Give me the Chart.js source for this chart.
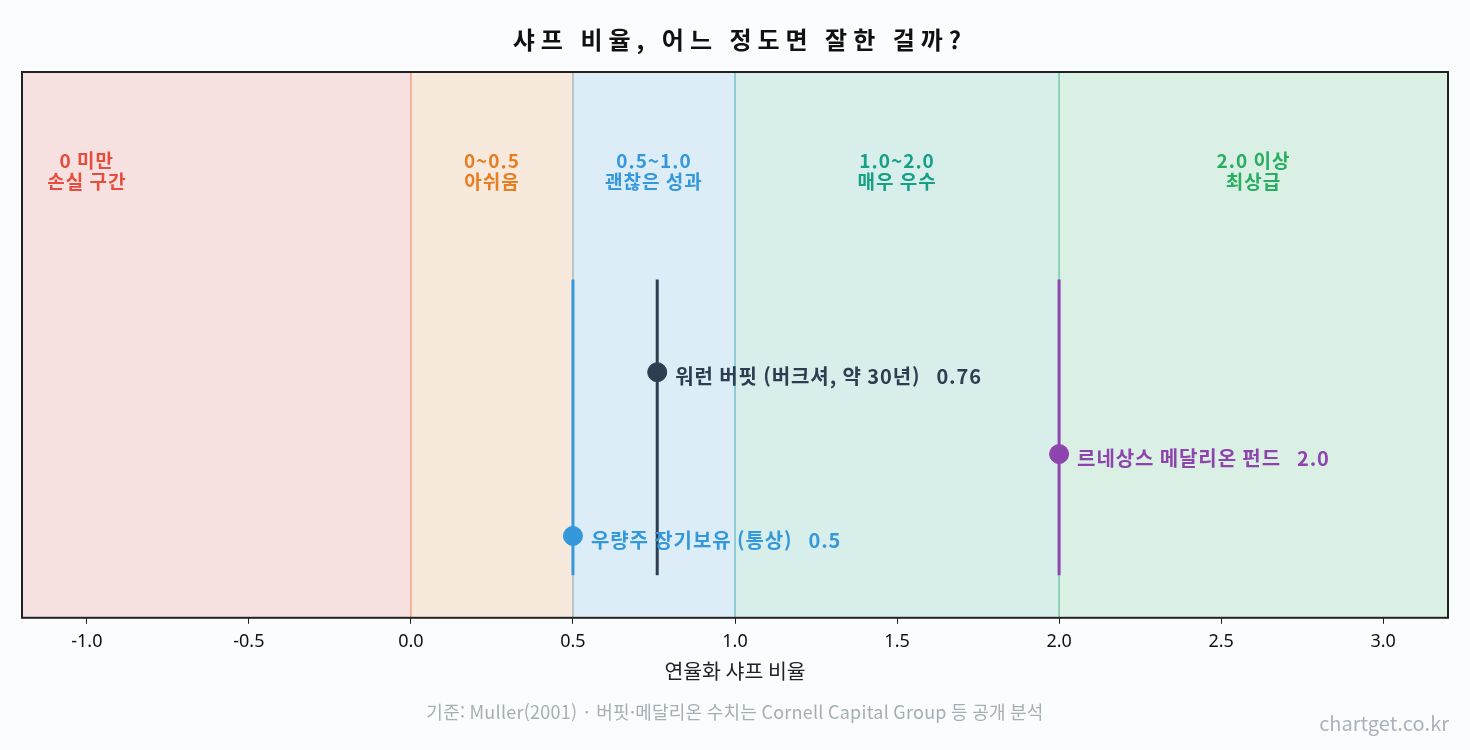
<!DOCTYPE html>
<html lang="ko">
  <head>
    <meta charset="UTF-8" />
    <title>샤프 비율, 어느 정도면 잘한 걸까?</title>
    <script src="https://cdn.jsdelivr.net/npm/chart.js"></script>
    <style>
      html, body { margin: 0; padding: 0; background: #fbfcfd; }
      .wrap { position: relative; width: 1470px; height: 750px; }
    </style>
  </head>
  <body>
    <div class="wrap">
      <canvas id="sharpeChart" width="1470" height="750"></canvas>
    </div>

    <script>
      // Sharpe ratio bands
      const bandStarts = [-2.0, 0.0, 0.5, 1.0, 2.0];
      const bandEnds = [0.0, 0.5, 1.0, 2.0, 4.0];
      const bandLabelX = [-1.0, 0.25, 0.75, 1.5, 2.6];
      const bandTitles = ["0 미만", "0~0.5", "0.5~1.0", "1.0~2.0", "2.0 이상"];
      const bandNotes = ["손실 구간", "아쉬움", "괜찮은 성과", "매우 우수", "최상급"];
      const bandColors = ["231,76,60", "230,126,34", "52,152,219", "22,160,133", "39,174,96"];

      // investors / strategies
      const names = ["우량주 장기보유 (통상)", "워런 버핏 (버크셔, 약 30년)", "르네상스 메달리온 펀드"];
      const sharpe = [0.5, 0.76, 2.0];
      const valueLabels = ["0.5", "0.76", "2.0"];
      const rowLevels = [0.15, 0.45, 0.3];
      const markColors = ["#3498db", "#2c3e50", "#8e44ad"];

      // vertical marker extent (y, 0..1)
      const lineLow = 0.078;
      const lineHigh = 0.62;
      const bandLabelLevel = 0.82;

      const FONT = "'Noto Sans CJK KR', 'Noto Sans', sans-serif";
      const TICK_FONT = "'Noto Sans', 'Noto Sans CJK KR', sans-serif";
      const TITLE = "샤프 비율, 어느 정도면 잘한 걸까?";
      const NOTE = "기준: Muller(2001) · 버핏·메달리온 수치는 Cornell Capital Group 등 공개 분석";

      const datasets = [];
      sharpe.forEach((v, i) => {
        datasets.push({
          type: "line",
          data: [{ x: v, y: lineLow }, { x: v, y: lineHigh }],
          borderColor: markColors[i],
          borderWidth: 3,
          pointRadius: 0,
          order: 2,
        });
      });
      sharpe.forEach((v, i) => {
        datasets.push({
          type: "scatter",
          data: [{ x: v, y: rowLevels[i] }],
          backgroundColor: markColors[i],
          borderColor: markColors[i],
          pointRadius: 9.5,
          order: 1,
        });
      });

      function spaced(ctx, px) {
        if ("letterSpacing" in ctx) ctx.letterSpacing = px + "px";
      }

      const bandsPlugin = {
        id: "bands",
        beforeDatasetsDraw(chart) {
          const { ctx, chartArea, scales } = chart;
          ctx.save();
          ctx.beginPath();
          ctx.rect(chartArea.left, chartArea.top, chartArea.right - chartArea.left, chartArea.bottom - chartArea.top);
          ctx.clip();
          bandStarts.forEach((s, i) => {
            const x0 = scales.x.getPixelForValue(s);
            const x1 = scales.x.getPixelForValue(bandEnds[i]);
            ctx.fillStyle = "rgba(" + bandColors[i] + ",0.15)";
            ctx.fillRect(x0, chartArea.top, x1 - x0, chartArea.bottom - chartArea.top);
            ctx.strokeStyle = "rgba(" + bandColors[i] + ",0.3)";
            ctx.lineWidth = 1.5;
            ctx.strokeRect(x0, chartArea.top - 2, x1 - x0, chartArea.bottom - chartArea.top + 4);
          });
          // band captions
          ctx.textAlign = "center";
          ctx.textBaseline = "middle";
          ctx.font = "bold 19px " + FONT;
          spaced(ctx, 1);
          const yMid = scales.y.getPixelForValue(bandLabelLevel);
          bandLabelX.forEach((lx, i) => {
            const xc = scales.x.getPixelForValue(lx);
            ctx.fillStyle = "rgb(" + bandColors[i] + ")";
            ctx.fillText(bandTitles[i], xc, yMid - 9);
            ctx.fillText(bandNotes[i], xc, yMid + 12);
          });
          ctx.restore();
        },
        afterDatasetsDraw(chart) {
          const { ctx, scales } = chart;
          ctx.save();
          ctx.textAlign = "left";
          ctx.textBaseline = "middle";
          ctx.font = "bold 20px " + FONT;
          spaced(ctx, 0.9);
          sharpe.forEach((v, i) => {
            const px = scales.x.getPixelForValue(v) + 18;
            const py = scales.y.getPixelForValue(rowLevels[i]) + 4;
            ctx.fillStyle = markColors[i];
            ctx.fillText(names[i], px, py);
            const w = ctx.measureText(names[i]).width;
            ctx.fillText(valueLabels[i], px + w + 16, py);
          });
          ctx.restore();
        },
        afterDraw(chart) {
          const { ctx, chartArea } = chart;
          ctx.save();
          ctx.strokeStyle = "#222";
          ctx.lineWidth = 2;
          ctx.strokeRect(chartArea.left, chartArea.top, chartArea.right - chartArea.left, chartArea.bottom - chartArea.top);
          // title
          ctx.textAlign = "center";
          ctx.textBaseline = "middle";
          ctx.fillStyle = "#111";
          ctx.font = "bold 24px " + FONT;
          spaced(ctx, 6);
          ctx.fillText(TITLE, 740, 40);
          // source note
          ctx.font = "18px " + FONT;
          spaced(ctx, 0.25);
          ctx.fillStyle = "#a4afb5";
          ctx.fillText(NOTE, 735, 712);
          // watermark
          ctx.font = "20px " + FONT;
          spaced(ctx, 0);
          ctx.fillStyle = "#aab2ba";
          ctx.textAlign = "right";
          ctx.fillText("chartget.co.kr", 1449, 723);
          ctx.restore();
        },
      };

      const ctx = document.getElementById("sharpeChart").getContext("2d");
      new Chart(ctx, {
        data: { datasets: datasets },
        options: {
          responsive: false,
          animation: false,
          layout: { padding: { left: 22, right: 22, top: 72, bottom: 62 } },
          plugins: {
            legend: { display: false },
            tooltip: { enabled: false },
          },
          scales: {
            x: {
              type: "linear",
              min: -1.2,
              max: 3.2,
              border: { display: false },
              grid: { drawOnChartArea: false, color: "#222", tickLength: 6 },
              ticks: {
                stepSize: 0.5,
                includeBounds: false,
                padding: 7,
                color: "#111",
                font: { family: TICK_FONT, size: 18 },
                callback: (v) => Number(v).toFixed(1),
              },
              title: {
                display: true,
                text: "연율화 샤프 비율",
                color: "#222",
                font: { family: FONT, size: 20.5 },
                padding: { top: 0, bottom: 4 },
              },
            },
            y: { display: false, min: 0, max: 1 },
          },
        },
        plugins: [bandsPlugin],
      });
    </script>
  </body>
</html>
